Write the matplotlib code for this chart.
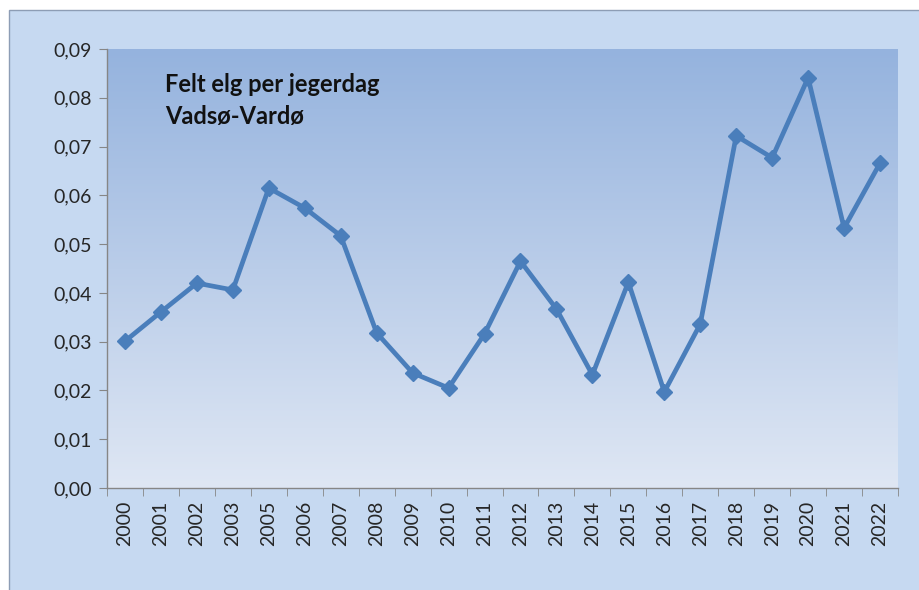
#!/usr/bin/env python3
"""Felt elg per jegerdag, Vadsø-Vardø - Excel-style line chart."""

import numpy as np
import matplotlib
matplotlib.use('Agg')
import matplotlib.pyplot as plt
from matplotlib.colors import LinearSegmentedColormap
from matplotlib.patches import Rectangle
from matplotlib.ticker import FixedLocator, FuncFormatter

years = ['2000', '2001', '2002', '2003', '2005', '2006', '2007', '2008',
         '2009', '2010', '2011', '2012', '2013', '2014', '2015', '2016',
         '2017', '2018', '2019', '2020', '2021', '2022']
felt_per_dag = [0.0301, 0.0361, 0.0420, 0.0406, 0.0615, 0.0574, 0.0517,
                0.0318, 0.0236, 0.0205, 0.0316, 0.0465, 0.0367, 0.0232,
                0.0422, 0.0197, 0.0336, 0.0722, 0.0677, 0.0841, 0.0533,
                0.0666]
y_ticks = [0.00, 0.01, 0.02, 0.03, 0.04, 0.05, 0.06, 0.07, 0.08, 0.09]
title_lines = ['Felt elg per jegerdag', 'Vadsø-Vardø']

plt.rcParams['font.family'] = ['Lato', 'DejaVu Sans']

fig = plt.figure(figsize=(9.19, 5.9), dpi=100, facecolor='white')

# outer chart area (light blue with thin border)
fig.patches.append(Rectangle((9 / 919, -0.01), 1.0, (590 - 10) / 590 + 0.01,
                             transform=fig.transFigure, facecolor='#c6d9f1',
                             edgecolor='#8d9db5', linewidth=1.0, zorder=-5))

ax = fig.add_axes([107 / 919, 102 / 590, 791 / 919, 439 / 590])
ax.set_facecolor('none')
ax.set_zorder(2)

x = np.arange(len(years))
ax.set_xlim(-0.5, len(years) - 0.5)
ax.set_ylim(0, 0.09)

# vertical gradient for the plot area
grad_cmap = LinearSegmentedColormap.from_list('plotbg', ['#dfe7f4', '#95b3de'])
grad = np.linspace(0, 1, 256).reshape(-1, 1)
ax.imshow(grad, cmap=grad_cmap, origin='lower', aspect='auto',
          extent=(-0.5, len(years) - 0.5, 0, 0.09), zorder=0)

ax.plot(x, felt_per_dag, color='#4a7ebb', linewidth=3.4, marker='D',
        markersize=8.5, markerfacecolor='#4a7ebb', markeredgecolor='#4a7ebb',
        zorder=3, clip_on=False)

# axes styling
for side in ['top', 'right']:
    ax.spines[side].set_visible(False)
for side in ['left', 'bottom']:
    ax.spines[side].set_color('#868686')
    ax.spines[side].set_linewidth(1.0)

ax.set_yticks(y_ticks)
ax.yaxis.set_major_formatter(FuncFormatter(lambda v, p: f'{v:.2f}'.replace('.', ',')))
ax.tick_params(axis='y', direction='out', length=6, color='#868686',
               labelsize=14, labelcolor='#262626', pad=5)

ax.set_xticks(x)
ax.set_xticklabels(years, rotation=90)
ax.xaxis.set_minor_locator(FixedLocator(np.arange(-0.5, len(years), 1.0)))
ax.tick_params(axis='x', which='major', length=0, labelsize=14,
               labelcolor='#262626', pad=9)
ax.tick_params(axis='x', which='minor', direction='out', length=6,
               color='#868686')

# chart title inside the plot area
ax.text(0.073, 0.902, title_lines[0], transform=ax.transAxes, fontsize=17,
        fontweight='bold', color='#111111', va='baseline', ha='left')
ax.text(0.073, 0.829, title_lines[1], transform=ax.transAxes, fontsize=17,
        fontweight='bold', color='#111111', va='baseline', ha='left')

fig.savefig('out.png', dpi=100, facecolor='white')
